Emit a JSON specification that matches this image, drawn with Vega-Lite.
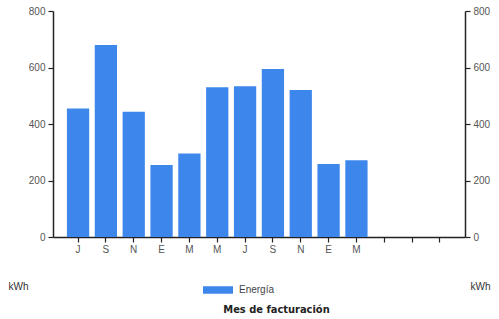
{
  "$schema": "https://vega.github.io/schema/vega-lite/v6.json",
  "autosize": {"type": "none"},
  "width": 412,
  "height": 226,
  "padding": {"left": 53, "top": 11, "right": 34, "bottom": 82},
  "background": "white",
  "config": {
    "view": {"stroke": null},
    "axis": {"grid": false, "domainColor": "#222", "tickColor": "#222", "labelColor": "#555", "labelFont": "Liberation Sans", "labelFontSize": 10, "domainWidth": 1.5, "tickWidth": 1.2}
  },
  "data": {
    "values": [
      {"mes": "J1", "energia": 455, "serie": "Energía"},
      {"mes": "S1", "energia": 680, "serie": "Energía"},
      {"mes": "N1", "energia": 443, "serie": "Energía"},
      {"mes": "E1", "energia": 255, "serie": "Energía"},
      {"mes": "M1", "energia": 296, "serie": "Energía"},
      {"mes": "M2", "energia": 530, "serie": "Energía"},
      {"mes": "J2", "energia": 534, "serie": "Energía"},
      {"mes": "S2", "energia": 595, "serie": "Energía"},
      {"mes": "N2", "energia": 520, "serie": "Energía"},
      {"mes": "E2", "energia": 258, "serie": "Energía"},
      {"mes": "M3", "energia": 272, "serie": "Energía"}
    ]
  },
  "encoding": {
    "x": {
      "field": "mes", "type": "nominal", "sort": null,
      "scale": {"domain": ["J1","S1","N1","E1","M1","M2","J2","S2","N2","E2","M3","x1","x2","x3"], "paddingOuter": 0.5, "paddingInner": 0.2},
      "axis": {"labelAngle": 0, "labelExpr": "indexof(datum.value,'x')==0 ? '' : substring(datum.value,0,1)", "tickSize": 5, "labelPadding": 2, "title": "Mes de facturación", "titleFont": "DejaVu Sans Condensed", "titleFontWeight": "bold", "titleFontSize": 11, "titleColor": "#222", "titleX": 223, "titleY": 72, "titleBaseline": "middle"}
    },
    "y": {
      "field": "energia", "type": "quantitative",
      "scale": {"domain": [0, 800], "nice": false}
    }
  },
  "layer": [
    {
      "mark": {"type": "bar", "color": "#3d87ec"},
      "encoding": {
        "y": {"field": "energia", "type": "quantitative", "scale": {"domain": [0, 800], "nice": false},
          "axis": {"orient": "left", "values": [0,200,400,600,800], "tickSize": 5, "labelPadding": 3, "title": "kWh", "titleAngle": 0, "titleX": -45, "titleY": 275, "titleAlign": "left", "titleBaseline": "middle", "titleFont": "Liberation Sans", "titleFontSize": 10, "titleFontWeight": "normal", "titleColor": "#333"}},
        "fill": {"field": "serie", "type": "nominal", "scale": {"range": ["#3d87ec"]},
          "legend": {"title": null, "orient": "none", "legendX": 150, "legendY": 264, "symbolType": "M-1,-0.25H1V0.25H-1Z", "symbolSize": 900, "symbolStrokeWidth": 0, "labelFont": "Liberation Sans", "labelFontSize": 10, "labelColor": "#444", "labelOffset": 6}}
      }
    },
    {
      "mark": {"type": "bar", "opacity": 0},
      "encoding": {
        "y": {"field": "energia", "type": "quantitative", "scale": {"domain": [0, 800], "nice": false},
          "axis": {"orient": "right", "values": [0,200,400,600,800], "tickSize": 5, "labelPadding": 3, "title": "kWh", "titleAngle": 0, "titleX": 5, "titleY": 275, "titleAlign": "left", "titleBaseline": "middle", "titleFont": "Liberation Sans", "titleFontSize": 10, "titleFontWeight": "normal", "titleColor": "#333"}}
      }
    }
  ],
  "resolve": {"axis": {"y": "independent"}}
}
